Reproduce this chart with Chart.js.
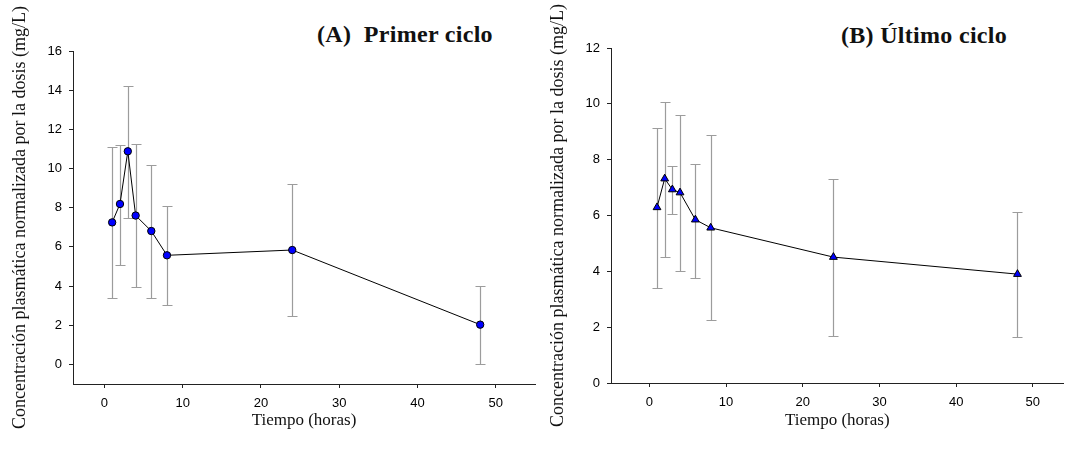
<!DOCTYPE html>
<html lang="es">
<head>
<meta charset="UTF-8">
<title>Concentración plasmática normalizada por la dosis</title>
<script src="https://cdn.jsdelivr.net/npm/chart.js"></script>
<style>
    body { margin: 0; background: #fff; width: 1069px; height: 450px; overflow: hidden; position: relative; }
    canvas { position: absolute; top: 0; }
    #chartA { left: 0; }
    #chartB { left: 540px; }
    .panel-title { position: absolute; margin: 0; font: bold 24px "Liberation Serif", serif; line-height: 1; white-space: pre; color: #111; letter-spacing: 0.3px; }
    #titleA { left: 317px; top: 22px; }
    #titleB { left: 841px; top: 23px; }
</style>
</head>
<body>
<h2 class="panel-title" id="titleA">(A)  Primer ciclo</h2>
<h2 class="panel-title" id="titleB">(B) Último ciclo</h2>
<canvas id="chartA" width="540" height="450"></canvas>
<canvas id="chartB" width="529" height="450"></canvas>

<script>
// tiempos de muestreo (horas)
const tiempos = [1, 2, 3, 4, 6, 8, 24, 48];

// (A) primer ciclo: media y extremos de las barras de error
const mediaA = [7.25, 8.19, 10.88, 7.6, 6.81, 5.57, 5.84, 2.03];
const bajoA  = [3.38, 5.1, 7.5, 3.97, 3.41, 3.04, 2.47, 0];
const altoA  = [11.1, 11.18, 14.19, 11.23, 10.17, 8.1, 9.2, 4.0];

// (B) ultimo ciclo
const mediaB = [6.29, 7.32, 6.93, 6.82, 5.85, 5.56, 4.51, 3.9];
const bajoB  = [3.4, 4.51, 6.05, 4.0, 3.77, 2.26, 1.68, 1.64];
const altoB  = [9.14, 10.06, 7.79, 9.6, 7.86, 8.87, 7.32, 6.14];

// marcas de los ejes
const xTicks  = [0, 10, 20, 30, 40, 50];
const yTicksA = [0, 2, 4, 6, 8, 10, 12, 14, 16];
const yTicksB = [0, 2, 4, 6, 8, 10, 12];

const yTitle = 'Concentración plasmática normalizada por la dosis (mg/L)';
const xTitle = 'Tiempo (horas)';

// barras de error dibujadas con las escalas del grafico
const errorBars = {
    id: 'errorBars',
    beforeDatasetsDraw(chart, args, opts) {
        const {ctx, scales: {x, y}} = chart;
        ctx.save();
        ctx.strokeStyle = opts.color;
        ctx.lineWidth = opts.width;
        opts.times.forEach((t, i) => {
            const px = Math.round(x.getPixelForValue(t)) + 0.5;
            const top = Math.round(y.getPixelForValue(opts.high[i])) + 0.5;
            const bot = Math.round(y.getPixelForValue(opts.low[i])) + 0.5;
            ctx.beginPath();
            ctx.moveTo(px, top); ctx.lineTo(px, bot);
            ctx.moveTo(px - opts.cap, top); ctx.lineTo(px + opts.cap, top);
            ctx.moveTo(px - opts.cap, bot); ctx.lineTo(px + opts.cap, bot);
            ctx.stroke();
        });
        ctx.restore();
    }
};

const axisColor = '#222';
const tickFont = { family: '"Liberation Sans", Arial, sans-serif', size: 13 };
const titleFont = { family: '"Liberation Serif", serif', size: 18 };

function panel(id, p) {
    new Chart(document.getElementById(id), {
        type: 'line',
        data: {
            datasets: [{
                data: tiempos.map((t, i) => ({ x: t, y: p.media[i] })),
                borderColor: '#000',
                borderWidth: 1,
                pointStyle: p.marker,
                pointRadius: p.radius,
                pointBackgroundColor: '#0000ff',
                pointBorderColor: '#000',
                pointBorderWidth: 1,
                tension: 0
            }]
        },
        options: {
            responsive: false,
            animation: false,
            events: [],
            layout: { padding: { top: p.top, right: p.right, left: 0, bottom: 0 } },
            plugins: {
                legend: { display: false },
                tooltip: { enabled: false },
                errorBars: { times: tiempos, low: p.bajo, high: p.alto, color: '#9c9c9c', width: 1.2, cap: 5 }
            },
            scales: {
                x: {
                    type: 'linear',
                    min: p.xmin, max: p.xmax,
                    afterBuildTicks: s => { s.ticks = xTicks.map(v => ({ value: v })); },
                    afterFit: s => { s.height = p.xHeight; },
                    grid: { display: true, drawOnChartArea: false, drawTicks: true, tickLength: 4, tickColor: axisColor },
                    border: { display: true, color: axisColor, width: 1 },
                    ticks: { font: tickFont, color: '#000', padding: 8, maxRotation: 0 },
                    title: { display: true, text: xTitle, font: { family: titleFont.family, size: 17 }, color: '#111', padding: { top: 0, bottom: 19 } }
                },
                y: {
                    type: 'linear',
                    min: p.ymin, max: p.ymax,
                    afterBuildTicks: s => { s.ticks = p.yTicks.map(v => ({ value: v })); },
                    afterFit: s => { s.width = p.yWidth; },
                    grid: { display: true, drawOnChartArea: false, drawTicks: true, tickLength: 4, tickColor: axisColor },
                    border: { display: true, color: axisColor, width: 1 },
                    ticks: { font: tickFont, color: '#000', padding: 7 },
                    title: { display: true, text: yTitle, font: titleFont, color: '#111', padding: { top: p.yTitlePad, bottom: 0 } }
                }
            }
        },
        plugins: [errorBars]
    });
}

panel('chartA', {
    media: mediaA, bajo: bajoA, alto: altoA, marker: 'circle', radius: 3.7,
    xmin: -4, xmax: 55, ymin: -1, ymax: 16, yTicks: yTicksA,
    top: 51, right: 1, xHeight: 66, yWidth: 73, yTitlePad: 9
});

panel('chartB', {
    media: mediaB, bajo: bajoB, alto: altoB, marker: 'triangle', radius: 4.5,
    xmin: -5, xmax: 54, ymin: 0, ymax: 12, yTicks: yTicksB,
    top: 48, right: 0, xHeight: 67, yWidth: 71, yTitlePad: 7
});
</script>
</body>
</html>
